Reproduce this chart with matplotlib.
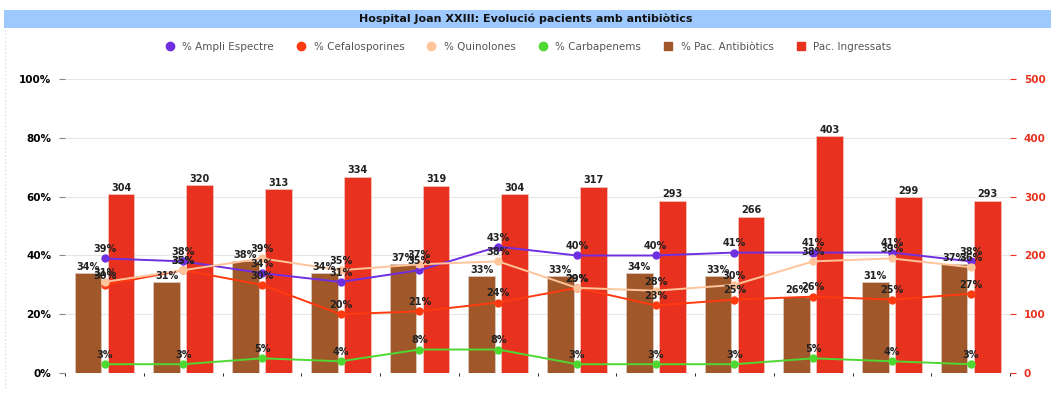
import matplotlib.pyplot as plt
from matplotlib.lines import Line2D
from matplotlib.patches import Rectangle
import numpy as np

mesos = ['Gen. 2019', 'Febr. 2019', 'Març 2019', 'Abr. 2019', 'Maig 2019', 'Juny 2019',
         'Jul. 2019', 'Ag. 2019', 'Set. 2019', 'Oct. 2019', 'Nov. 2019', 'Des. 2019']
ampli = [39, 38, 34, 31, 35, 43, 40, 40, 41, 41, 41, 38]
cefalo = [30, 35, 30, 20, 21, 24, 29, 23, 25, 26, 25, 27]
quinol = [31, 35, 39, 35, 37, 38, 29, 28, 30, 38, 39, 36]
carba = [3, 3, 5, 4, 8, 8, 3, 3, 3, 5, 4, 3]
pac_antib = [34, 31, 38, 34, 37, 33, 33, 34, 33, 26, 31, 37]
ingressats = [304, 320, 313, 334, 319, 304, 317, 293, 266, 403, 299, 293]

c_ampli = '#6f2fe0'
c_cefalo = '#ff3a10'
c_quinol = '#ffc49a'
c_carba = '#4fd832'
c_antib = '#a0582a'
c_ingr = '#e8321f'

plt.rcParams['font.family'] = ['DejaVu Sans']
fig = plt.figure(figsize=(10.51, 3.96), dpi=100, facecolor='white')
ax2 = fig.add_axes([0.062, 0.058, 0.899, 0.742])
ax = ax2.twinx()
ax.yaxis.tick_left()
ax2.yaxis.tick_right()
ax.set_zorder(ax2.get_zorder() + 1)
ax.patch.set_visible(False)

x = np.arange(len(mesos))
w = 0.34
ax.bar(x - 0.21, pac_antib, w, color=c_antib, edgecolor='#d8c8bc', linewidth=0.6)
ax2.bar(x + 0.21, ingressats, w, color=c_ingr, edgecolor='#f0c0b8', linewidth=0.6)

for serie, col in [(ampli, c_ampli), (cefalo, c_cefalo), (quinol, c_quinol), (carba, c_carba)]:
    ax.plot(x, serie, color=col, lw=1.4, marker='o', ms=5, zorder=4)
    for xi, v in zip(x, serie):
        ax.annotate(f'{v}%', (xi, v), xytext=(0, 3), textcoords='offset points',
                    ha='center', va='bottom', fontsize=7, fontweight='bold', color='#222222', zorder=6)

for xi, v in zip(x, pac_antib):
    ax.annotate(f'{v}%', (xi - 0.21, v), xytext=(0, 1), textcoords='offset points',
                ha='center', va='bottom', fontsize=7, fontweight='bold', color='#222222', zorder=6)
for xi, v in zip(x, ingressats):
    ax2.annotate(str(v), (xi + 0.21, v), xytext=(0, 1), textcoords='offset points',
                 ha='center', va='bottom', fontsize=7, fontweight='bold', color='#222222')

ax.set_ylim(0, 100)
ax2.set_ylim(0, 500)
ax.set_xlim(-0.5, len(mesos) - 0.5)
ax.set_yticks([0, 20, 40, 60, 80, 100])
ax.set_yticklabels([f'{t}%' for t in range(0, 101, 20)])
ax2.set_yticks(range(0, 501, 100))
ax2.grid(axis='y', color='#e6e6e6', lw=0.8)
ax2.set_axisbelow(True)

ax.set_xticks(x)
ax.set_xticklabels(mesos)
ax.set_xticks(np.arange(-0.5, len(mesos)), minor=True)
ax.tick_params(axis='x', which='major', length=0, pad=6, labelsize=7.5, labelcolor='#555555')
ax.tick_params(axis='x', which='minor', length=3, color='#aaaaaa')
ax.tick_params(axis='y', length=4, color='#888888', pad=6, labelsize=7.5)
ax2.tick_params(axis='y', length=4, color=c_ingr, labelcolor=c_ingr, pad=6, labelsize=7.5)
ax2.tick_params(axis='x', length=0, labelbottom=False)
for lab in ax.get_xticklabels() + ax.get_yticklabels() + ax2.get_yticklabels():
    lab.set_fontweight('bold')
for a in (ax, ax2):
    for s in a.spines.values():
        s.set_visible(False)

# title band
fig.patches.append(Rectangle((0.004, 1 - 28 / 396), 0.996, 18 / 396, transform=fig.transFigure,
                             facecolor='#9dc9ff', edgecolor='none'))
fig.text(0.5, 1 - 19 / 396, 'Hospital Joan XXIII: Evolució pacients amb antibiòtics',
         ha='center', va='center', fontsize=8, fontweight='bold', color='#111111')
fig.lines.append(Line2D([0.005, 0.005], [0.02, 1 - 28 / 396], transform=fig.transFigure,
                        color='#dddddd', lw=1, ls=':'))

handles = [
    Line2D([], [], ls='none', marker='o', ms=6, color=c_ampli),
    Line2D([], [], ls='none', marker='o', ms=6, color=c_cefalo),
    Line2D([], [], ls='none', marker='o', ms=6, color=c_quinol),
    Line2D([], [], ls='none', marker='o', ms=6, color=c_carba),
    Line2D([], [], ls='none', marker='s', ms=6, color=c_antib),
    Line2D([], [], ls='none', marker='s', ms=6, color=c_ingr),
]
labels = ['% Ampli Espectre', '% Cefalosporines', '% Quinolones', '% Carbapenems',
          '% Pac. Antibiòtics', 'Pac. Ingressats']
fig.legend(handles, labels, loc='center', bbox_to_anchor=(0.5, 1 - 47 / 396), ncol=6,
           frameon=False, fontsize=7.5, handletextpad=0.2, columnspacing=1.6, labelcolor='#555555')

fig.savefig('out.png', dpi=100, facecolor='white')
